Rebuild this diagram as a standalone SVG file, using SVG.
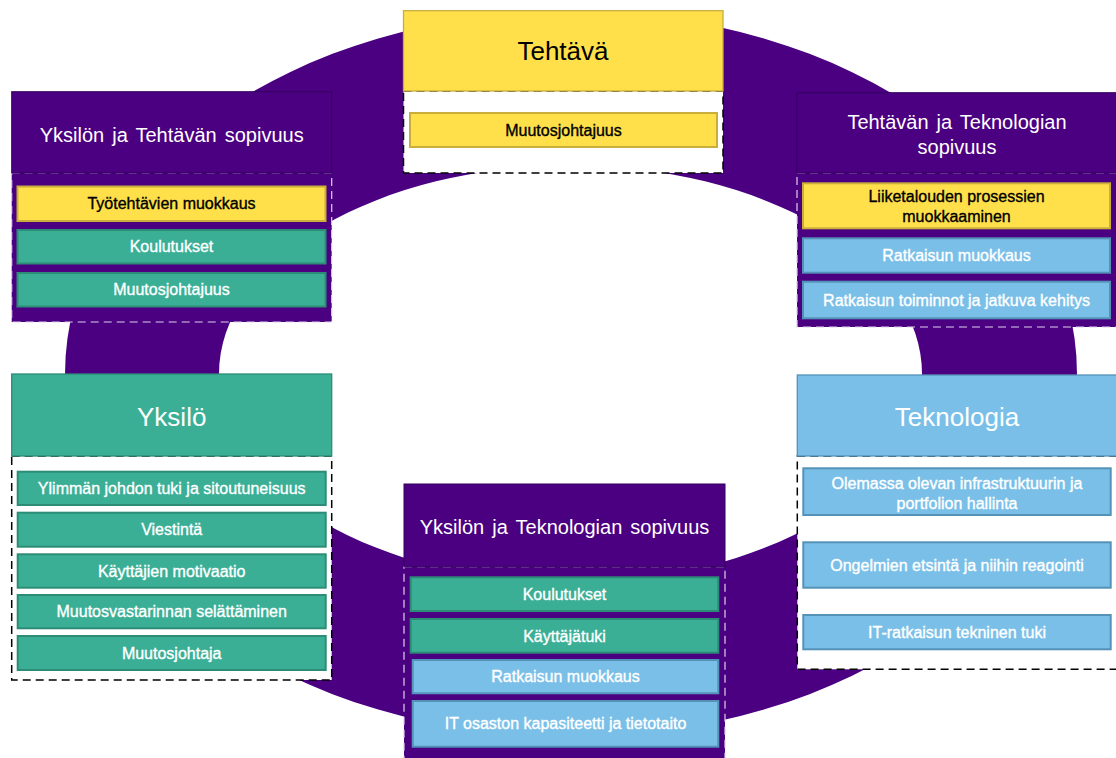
<svg xmlns="http://www.w3.org/2000/svg" width="1116" height="758" viewBox="0 0 1116 758">
<defs>
<style>
.hy{fill:#FFE04B;stroke:#C9AE3C;stroke-width:1.3}
.hp{fill:#4B0082;stroke:#33005C;stroke-width:1}
.ht{fill:#3AAF96;stroke:#2C8C76;stroke-width:1.3}
.hb{fill:#7ABFE8;stroke:#5592B8;stroke-width:1.3}
.dw{fill:#FFFFFF;stroke:#000000;stroke-width:1.5;stroke-dasharray:8 5}
.dp{fill:#4B0082;stroke:#DCD0EA;stroke-width:1.2;stroke-dasharray:8 5}
.iy{fill:#FFE04B;stroke:#C9AE3C;stroke-width:2}
.it{fill:#3AAF96;stroke:#2C8C76;stroke-width:2}
.ib{fill:#7ABFE8;stroke:#5592B8;stroke-width:2}
text{font-family:"Liberation Sans",Arial,sans-serif;text-anchor:middle}
.t1{font-size:26px}
.t2{font-size:20px;word-spacing:2.5px;fill:#FFFFFF}
.s{font-size:16px;stroke-width:0.35px}
.k{fill:#000000}
.s.k{stroke:#000000}
.w{fill:#FFFFFF}
.s.w{stroke:#FFFFFF}
</style>
</defs>
<rect x="0" y="0" width="1116" height="758" fill="#FFFFFF"/>
<g id="ring">
<path fill="#4B0082" fill-rule="evenodd" d="M65,374 A506,363 0 1,0 1077,374 A506,363 0 1,0 65,374 Z M219,374 A351.5,208.5 0 1,0 922,374 A351.5,208.5 0 1,0 219,374 Z"/>
</g>
<g id="connectors"></g>
<g id="tehtava">
<rect class="dw" x="403.5" y="91" width="319.5" height="82"/>
<rect class="hy" x="403.5" y="10.7" width="319.5" height="80.3"/>
<text class="t1 k" x="563" y="60">Tehtävä</text>
<rect class="iy" x="410" y="113" width="307" height="34"/>
<text class="s k" x="563.5" y="135.6">Muutosjohtajuus</text>
</g>
<g id="yksilon-tehtavan">
<rect class="dp" x="11.7" y="173" width="320" height="149"/>
<rect class="hp" x="11.7" y="91.7" width="320" height="81.3"/>
<text class="t2" x="171.7" y="142">Yksilön ja Tehtävän sopivuus</text>
<rect class="iy" x="17.5" y="186.5" width="308" height="34.5"/>
<text class="s k" x="171.5" y="209.3">Työtehtävien muokkaus</text>
<rect class="it" x="17.5" y="230" width="308" height="33.5"/>
<text class="s w" x="171.5" y="252.3">Koulutukset</text>
<rect class="it" x="17.5" y="273" width="308" height="33.5"/>
<text class="s w" x="171.5" y="295.3">Muutosjohtajuus</text>
</g>
<g id="tehtavan-teknologian">
<rect class="dp" x="797" y="173" width="320" height="154"/>
<rect class="hp" x="797" y="92.7" width="320" height="80.3"/>
<text class="t2" x="957" y="128.7">Tehtävän ja Teknologian</text>
<text class="t2" x="957" y="153.7">sopivuus</text>
<rect class="iy" x="803" y="183.3" width="307" height="45"/>
<text class="s k" x="956.5" y="202.3">Liiketalouden prosessien</text>
<text class="s k" x="956.5" y="222.3">muokkaaminen</text>
<rect class="ib" x="803" y="238.3" width="307" height="34.4"/>
<text class="s w" x="956.5" y="261.1">Ratkaisun muokkaus</text>
<rect class="ib" x="803" y="281.7" width="307" height="36.6"/>
<text class="s w" x="956.5" y="305.6">Ratkaisun toiminnot ja jatkuva kehitys</text>
</g>
<g id="yksilo">
<rect class="dw" x="11.7" y="456" width="320" height="224"/>
<rect class="ht" x="11.7" y="374" width="320" height="82"/>
<text class="t1 w" x="171.7" y="425.7">Yksilö</text>
<rect class="it" x="17.7" y="471.7" width="308" height="33.3"/>
<text class="s w" x="171.7" y="494">Ylimmän johdon tuki ja sitoutuneisuus</text>
<rect class="it" x="17.7" y="512.7" width="308" height="34"/>
<text class="s w" x="171.7" y="535.3">Viestintä</text>
<rect class="it" x="17.7" y="554.3" width="308" height="33.4"/>
<text class="s w" x="171.7" y="576.6">Käyttäjien motivaatio</text>
<rect class="it" x="17.7" y="595" width="308" height="33.3"/>
<text class="s w" x="171.7" y="617.3">Muutosvastarinnan selättäminen</text>
<rect class="it" x="17.7" y="636" width="308" height="34"/>
<text class="s w" x="171.7" y="658.6">Muutosjohtaja</text>
</g>
<g id="teknologia">
<rect class="dw" x="797.3" y="456" width="320" height="213.3"/>
<rect class="hb" x="797.3" y="375" width="320" height="81"/>
<text class="t1 w" x="957" y="425.7">Teknologia</text>
<rect class="ib" x="803.3" y="468.3" width="307.4" height="46.7"/>
<text class="s w" x="957" y="489">Olemassa olevan infrastruktuurin ja</text>
<text class="s w" x="957" y="509">portfolion hallinta</text>
<rect class="ib" x="803.3" y="542.3" width="307.4" height="45.4"/>
<text class="s w" x="957" y="570.6">Ongelmien etsintä ja niihin reagointi</text>
<rect class="ib" x="803.3" y="615" width="307.4" height="34.3"/>
<text class="s w" x="957" y="637.6">IT-ratkaisun tekninen tuki</text>
</g>
<g id="yksilon-teknologian">
<rect class="dp" x="404" y="566.7" width="321" height="200"/>
<rect class="hp" x="404" y="484" width="321" height="82.7"/>
<text class="t2" x="564.5" y="533.7">Yksilön ja Teknologian sopivuus</text>
<rect class="it" x="410.7" y="577.3" width="307.6" height="33.7"/>
<text class="s w" x="564.5" y="599.8">Koulutukset</text>
<rect class="it" x="410.7" y="619" width="307.6" height="33.7"/>
<text class="s w" x="564.5" y="641.5">Käyttäjätuki</text>
<rect class="ib" x="412.7" y="660" width="305.6" height="33.3"/>
<text class="s w" x="565.5" y="682.3">Ratkaisun muokkaus</text>
<rect class="ib" x="412.7" y="701" width="305.6" height="45.7"/>
<text class="s w" x="565.5" y="729.4">IT osaston kapasiteetti ja tietotaito</text>
</g>
</svg>
